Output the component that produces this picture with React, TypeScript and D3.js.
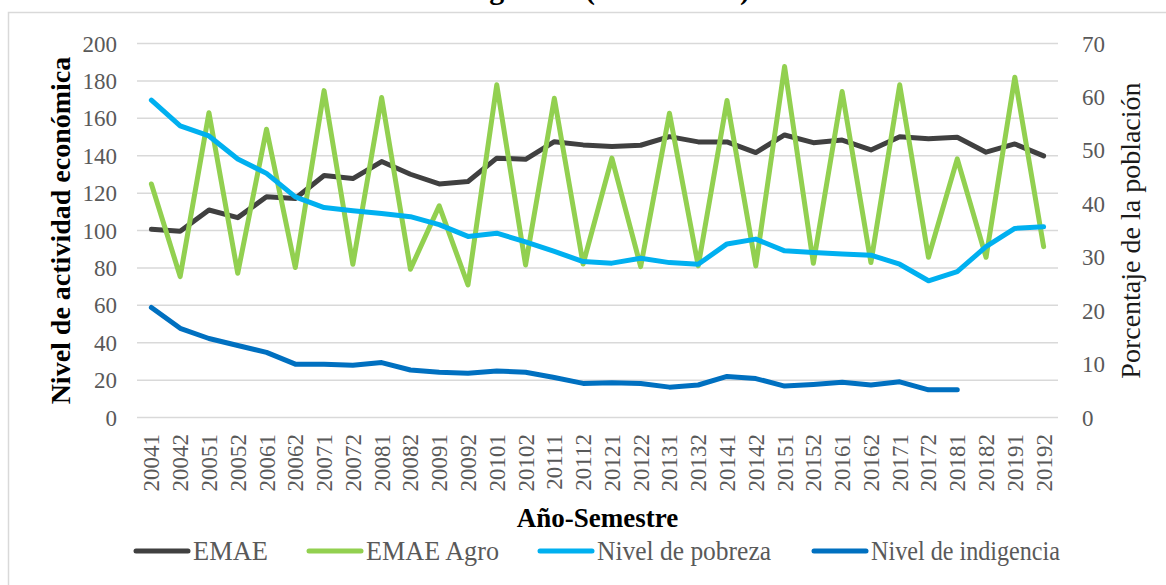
import React from "react";
import * as d3 from "d3";

const categories = [
  "20041","20042","20051","20052","20061","20062","20071","20072","20081","20082",
  "20091","20092","20101","20102","20111","20112","20121","20122","20131","20132",
  "20141","20142","20151","20152","20161","20162","20171","20172","20181","20182",
  "20191","20192",
];

const emae = [
  100.7, 99.6, 111, 106.9, 118.1, 117.1, 129.4, 127.8, 136.9, 130.1,
  124.9, 126.2, 138.7, 138.1, 147.5, 145.8, 144.9, 145.6, 150.2, 147.4,
  147.4, 141.7, 151.1, 147, 148.4, 143.1, 150.2, 149.1, 149.9, 141.9,
  146.3, 139.9,
];

const emaeAgro = [
  124.9, 75.4, 163, 77.2, 154.2, 80.2, 174.8, 82, 171.1, 79.3,
  113.2, 70.9, 177.9, 81.6, 170.7, 82.1, 138.7, 80.7, 162.7, 81.1,
  169.5, 81.1, 187.7, 82.5, 174.3, 82.9, 177.9, 85.7, 138.3, 85.7,
  182, 91.4,
];

const pobreza = [
  59.4, 54.6, 52.7, 48.4, 45.7, 41.3, 39.3, 38.7, 38.2, 37.6,
  36.1, 33.9, 34.5, 32.9, 31.1, 29.2, 28.9, 29.8, 29.0, 28.7,
  32.5, 33.4, 31.2, 30.9, 30.6, 30.4, 28.7, 25.6, 27.3, 32.0,
  35.4, 35.7,
];

const indigencia: (number | null)[] = [
  20.6, 16.7, 14.8, 13.5, 12.2, 10.0, 10.0, 9.8, 10.3, 8.9,
  8.5, 8.3, 8.7, 8.5, 7.5, 6.4, 6.5, 6.4, 5.7, 6.1,
  7.7, 7.3, 5.9, 6.2, 6.6, 6.1, 6.7, 5.2, 5.2, null,
  null, null,
];

const leftTicks = [0, 20, 40, 60, 80, 100, 120, 140, 160, 180, 200];
const rightTicks = [0, 10, 20, 30, 40, 50, 60, 70];

const seriesNames = ["EMAE", "EMAE Agro", "Nivel de pobreza", "Nivel de indigencia"];
const seriesColors = ["#404040", "#92d050", "#00b0f0", "#0070c0"];

const W = 1166;
const H = 585;
const plot = { left: 137, right: 1058, top: 43.5, bottom: 417.6 };
const FONT = "'Liberation Serif', 'Times New Roman', serif";

export default function App() {
  const x = d3
    .scaleBand<string>()
    .domain(categories)
    .range([plot.left, plot.right]);
  const cx = (c: string) => (x(c) as number) + x.bandwidth() / 2;
  const yL = d3.scaleLinear().domain([0, 200]).range([plot.bottom, plot.top]);
  const yR = d3.scaleLinear().domain([0, 70]).range([plot.bottom, plot.top]);

  const lineL = d3
    .line<number | null>()
    .defined((d) => d != null)
    .x((_, i) => cx(categories[i]))
    .y((d) => yL(d as number));
  const lineR = d3
    .line<number | null>()
    .defined((d) => d != null)
    .x((_, i) => cx(categories[i]))
    .y((d) => yR(d as number));

  const paths = [
    { d: lineL(emae), color: seriesColors[0] },
    { d: lineL(emaeAgro), color: seriesColors[1] },
    { d: lineR(pobreza), color: seriesColors[2] },
    { d: lineR(indigencia), color: seriesColors[3] },
  ];

  const legendX = [134, 307, 538, 812];
  const legendTextW = [75, 133, 174, 189];
  const legendY = 551;
  const swatchLen = 56;

  return (
    <svg
      width={W}
      height={H}
      style={{ position: "absolute", left: 0, top: 0, fontFamily: FONT }}
    >
      <rect x={0} y={0} width={W} height={H} fill="#ffffff" />
      <text
        x={750}
        y={-1}
        textAnchor="end"
        fontWeight="bold"
        fontSize={30}
        fill="#000"
      >
        Actividad agrícola (2004 - 2019)
      </text>
      <rect
        x={8.5}
        y={12.5}
        width={W}
        height={H}
        fill="#ffffff"
        stroke="#d9d9d9"
        strokeWidth={1.5}
      />

      {leftTicks.map((t) => (
        <line
          key={"g" + t}
          x1={plot.left}
          x2={plot.right}
          y1={yL(t)}
          y2={yL(t)}
          stroke="#d9d9d9"
          strokeWidth={1.5}
        />
      ))}

      {leftTicks.map((t) => (
        <text
          key={"l" + t}
          x={117}
          y={yL(t)}
          dy="0.35em"
          textAnchor="end"
          fontSize={23}
          fill="#595959"
        >
          {t}
        </text>
      ))}
      {rightTicks.map((t) => (
        <text
          key={"r" + t}
          x={1082}
          y={yR(t)}
          dy="0.35em"
          textAnchor="start"
          fontSize={23}
          fill="#595959"
        >
          {t}
        </text>
      ))}

      {categories.map((c) => (
        <text
          key={"c" + c}
          transform={`translate(${cx(c) + 8},434) rotate(-90)`}
          textAnchor="end"
          fontSize={23}
          fill="#595959"
        >
          {c}
        </text>
      ))}

      {paths.map((p, i) => (
        <path
          key={"p" + i}
          d={p.d || ""}
          fill="none"
          stroke={p.color}
          strokeWidth={5}
          strokeLinejoin="round"
          strokeLinecap="round"
        />
      ))}

      <text
        transform={`translate(70,${(plot.top + plot.bottom) / 2}) rotate(-90)`}
        textAnchor="middle"
        fontWeight="bold"
        fontSize={28}
        fill="#000"
      >
        Nivel de actividad económica
      </text>
      <text
        transform={`translate(1140,${(plot.top + plot.bottom) / 2}) rotate(-90)`}
        textAnchor="middle"
        fontSize={28}
        fill="#1a1a1a"
      >
        Porcentaje de la población
      </text>
      <text
        x={(plot.left + plot.right) / 2}
        y={527}
        textAnchor="middle"
        fontWeight="bold"
        fontSize={27}
        fill="#000"
      >
        Año-Semestre
      </text>

      {seriesNames.map((n, i) => (
        <g key={"lg" + i}>
          <line
            x1={legendX[i] + 2}
            x2={legendX[i] + swatchLen - 2}
            y1={legendY}
            y2={legendY}
            stroke={seriesColors[i]}
            strokeWidth={5}
            strokeLinecap="round"
          />
          <text
            x={legendX[i] + swatchLen + 3}
            y={legendY}
            dy="0.35em"
            fontSize={27}
            fill="#595959"
            textLength={legendTextW[i]}
            lengthAdjust="spacingAndGlyphs"
          >
            {n}
          </text>
        </g>
      ))}
    </svg>
  );
}
